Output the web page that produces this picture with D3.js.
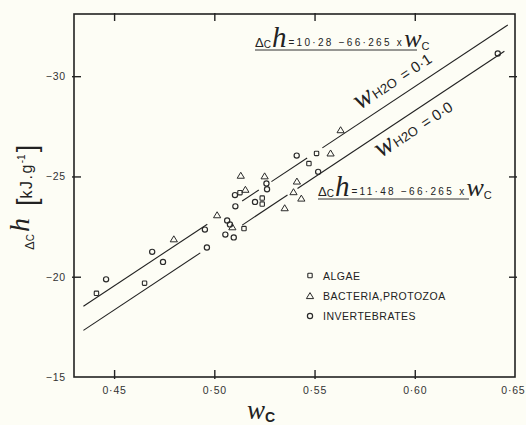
<!DOCTYPE html>
<html><head><meta charset="utf-8">
<script src="https://cdn.jsdelivr.net/npm/d3@7/dist/d3.min.js"></script>
<style>
html,body{margin:0;padding:0;background:#fdfdf5;}
svg{display:block;}
</style></head>
<body>
<svg id="c" width="526" height="425"></svg>
<script>
// ---- data ----
const algae = [[0.4412,-19.17],[0.4652,-19.68],[0.5128,-24.19],[0.5148,-22.40],[0.5239,-23.92],[0.5239,-23.62],[0.5472,-25.64],[0.5510,-26.15]];
const bacteria = [[0.4798,-21.87],[0.5014,-23.07],[0.5090,-22.47],[0.5132,-25.04],[0.5155,-24.34],[0.5251,-25.01],[0.5351,-23.42],[0.5395,-24.22],[0.5412,-24.75],[0.5434,-23.90],[0.5580,-26.15],[0.5630,-27.31]];
const invertebrates = [[0.4460,-19.87],[0.4690,-21.24],[0.4744,-20.74],[0.4953,-22.35],[0.4963,-21.46],[0.5064,-22.80],[0.5078,-22.61],[0.5055,-22.10],[0.5097,-21.96],[0.5103,-24.07],[0.5105,-23.51],[0.5203,-23.73],[0.5260,-24.65],[0.5263,-24.36],[0.5411,-26.04],[0.5518,-25.23],[0.6414,-31.13]];
const fitIntercepts = [10.28, 11.48];   // w_H2O = 0.1, 0.0
const fitSlope = -66.265;
const upperSegments = [[0.4347,0.4965],[0.5139,0.5222],[0.5285,0.5463],[0.5539,0.6464]];
const lowerSegments = [[0.4347,0.4930],[0.5139,0.5365],[0.5415,0.6447]];
const xTicks = [0.45,0.50,0.55,0.60,0.65];
const xTickLabels = ["0·45","0·50","0·55","0·60","0·65"];
const yTicks = [-15,-20,-25,-30];
const yTickLabels = ["−15","−20","−25","−30"];
const legendLabels = ["ALGAE","BACTERIA,PROTOZOA","INVERTEBRATES"];
const eqTexts = ["=10·28 −66·265 x","=11·48 −66·265 x"];
const waterLabels = ["= 0·1","= 0·0"];

// ---- layout ----
const L=74,T=14,R=515,B=377;
const ink="#222";
const svg=d3.select("#c");
const x=d3.scaleLinear().domain([0.43,0.65]).range([L,R]);
const y=d3.scaleLinear().domain([-15,-33.1]).range([B,T]);
const sans="'Liberation Sans', Arial, sans-serif";
const serif="'Liberation Serif', 'Times New Roman', serif";

// frame
svg.append("rect").attr("x",L).attr("y",T).attr("width",R-L).attr("height",B-T)
  .attr("fill","none").attr("stroke",ink).attr("stroke-width",1.6);

// bottom axis
const gb=svg.append("g").attr("transform",`translate(0,${B})`)
  .call(d3.axisBottom(x).tickValues(xTicks).tickFormat((d,i)=>xTickLabels[i]).tickSizeInner(-7).tickSizeOuter(0).tickPadding(10));
gb.select(".domain").remove();
gb.selectAll(".tick line").attr("y1",2).attr("stroke",ink).attr("stroke-width",1.4);
gb.selectAll(".tick").filter(d=>d>=0.65).select("line").remove();
gb.selectAll("text").attr("font-family",sans).attr("font-size",10.5).attr("letter-spacing",0.8).attr("fill","#333");
gb.selectAll(".tick").filter(d=>d>=0.65).select("text").attr("text-anchor","end").attr("x",10);

// top axis
const gt=svg.append("g").attr("transform",`translate(0,${T})`)
  .call(d3.axisTop(x).tickValues(xTicks.slice(0,4)).tickFormat("").tickSizeInner(-7).tickSizeOuter(0));
gt.select(".domain").remove();
gt.selectAll(".tick line").attr("y1",-1).attr("stroke",ink).attr("stroke-width",1.4);

// left axis
const gl=svg.append("g").attr("transform",`translate(${L},0)`)
  .call(d3.axisLeft(y).tickValues(yTicks).tickFormat((d,i)=>yTickLabels[i]).tickSizeInner(-7).tickSizeOuter(0).tickPadding(8));
gl.select(".domain").remove();
gl.selectAll(".tick line").attr("x1",-2).attr("stroke",ink).attr("stroke-width",1.4);
gl.selectAll(".tick").filter(d=>d===-15).select("line").remove();
gl.selectAll("text").attr("font-family",sans).attr("font-size",10.5).attr("letter-spacing",0.8).attr("fill","#333");

// right axis
const gr=svg.append("g").attr("transform",`translate(${R},0)`)
  .call(d3.axisRight(y).tickValues(yTicks.slice(1)).tickFormat("").tickSizeInner(-6).tickSizeOuter(0));
gr.select(".domain").remove();
gr.selectAll(".tick line").attr("x1",2).attr("stroke",ink).attr("stroke-width",1.4);

// fit lines
const fit=(a,w)=>a+fitSlope*w;
[[upperSegments,fitIntercepts[0]],[lowerSegments,fitIntercepts[1]]].forEach(([segs,a])=>{
  segs.forEach(s=>{
    svg.append("line").attr("x1",x(s[0])).attr("y1",y(fit(a,s[0])))
      .attr("x2",x(s[1])).attr("y2",y(fit(a,s[1])))
      .attr("stroke",ink).attr("stroke-width",1.1);
  });
});

// markers
const mk="#2a2a2a";
function square(g,cx,cy){g.append("rect").attr("x",cx-2.2).attr("y",cy-2.2).attr("width",4.4).attr("height",4.4).attr("rx",0.8)
  .attr("fill","none").attr("stroke",mk).attr("stroke-width",1.1);}
function tri(g,cx,cy){g.append("path").attr("d",`M${cx-3.6},${cy+2.6}L${cx+3.6},${cy+2.6}L${cx},${cy-3.4}Z`)
  .attr("fill","none").attr("stroke",mk).attr("stroke-width",1);}
function circ(g,cx,cy){g.append("circle").attr("cx",cx).attr("cy",cy).attr("r",2.6)
  .attr("fill","none").attr("stroke",mk).attr("stroke-width",1.2);}
const gm=svg.append("g");
algae.forEach(d=>square(gm,x(d[0]),y(d[1])));
bacteria.forEach(d=>tri(gm,x(d[0]),y(d[1])));
invertebrates.forEach(d=>circ(gm,x(d[0]),y(d[1])));

// legend
const lg=svg.append("g");
const legY=[275.5,296,316];
const legFns=[square,tri,circ];
legendLabels.forEach((t,i)=>{
  legFns[i](lg,310,legY[i]);
  lg.append("text").attr("x",323).attr("y",legY[i]+4).attr("font-family",sans).attr("font-size",10.5)
    .attr("letter-spacing",0.5).attr("fill","#222").text(t);
});

// equation labels
function eq(xs,ys,txt,ulEnd){
  const t=svg.append("text").attr("x",xs).attr("y",ys).attr("fill","#222");
  t.append("tspan").attr("font-family",sans).attr("font-size",13).text("Δ");
  t.append("tspan").attr("font-family",sans).attr("font-size",10).attr("dy",1).text("C");
  t.append("tspan").attr("font-family",serif).attr("font-style","italic").attr("font-size",29).attr("dy",-1).attr("dx",1).text("h");
  t.append("tspan").attr("font-family",sans).attr("font-size",10).attr("letter-spacing",2.3).attr("dx",2).attr("dy",-1).text(txt);
  t.append("tspan").attr("font-family",serif).attr("font-style","italic").attr("font-size",26).attr("dy",1).text("w");
  t.append("tspan").attr("font-family",sans).attr("font-size",11).attr("dy",3).text("C");
  svg.append("line").attr("x1",xs).attr("x2",ulEnd).attr("y1",ys+3).attr("y2",ys+3).attr("stroke","#333").attr("stroke-width",1);
}
eq(255,47,eqTexts[0],417);
eq(318,196,eqTexts[1],469);

// water-content labels along lines
const ang=-Math.atan(Math.abs(fitSlope)*(y(-16)-y(-15))*-1/(x(0.44)-x(0.43))/100)*180/Math.PI;
function wlab(w0,a,off,txt){
  const px=x(w0), py=y(fit(a,w0))+off;
  const t=svg.append("text").attr("transform",`translate(${px},${py}) rotate(${ang})`).attr("fill","#222");
  t.append("tspan").attr("font-family",serif).attr("font-style","italic").attr("font-size",28).text("w");
  t.append("tspan").attr("font-family",sans).attr("font-size",13).attr("dx",1).text("H2O");
  t.append("tspan").attr("font-family",sans).attr("font-size",15).attr("dx",7).text(txt);
}
wlab(0.5725,fitIntercepts[0],-13,waterLabels[0]);
wlab(0.5830,fitIntercepts[1],25,waterLabels[1]);

// axis titles
const xt=svg.append("text").attr("x",247).attr("y",419).attr("fill","#222");
xt.append("tspan").attr("font-family",serif).attr("font-style","italic").attr("font-size",27).text("w");
xt.append("tspan").attr("font-family",sans).attr("font-weight","bold").attr("font-size",14).attr("dy",3).text("C");

const yt=svg.append("text").attr("transform","translate(34,250) rotate(-90)").attr("fill","#222");
yt.append("tspan").attr("font-family",sans).attr("font-size",13).text("Δ");
yt.append("tspan").attr("font-family",sans).attr("font-size",10).text("C");
yt.append("tspan").attr("font-family",serif).attr("font-style","italic").attr("font-size",28).attr("dx",2).attr("dy",-5).text("h");
yt.append("tspan").attr("font-family",sans).attr("font-size",27).attr("dx",12).attr("dy",7).text("[");
yt.append("tspan").attr("font-family",sans).attr("font-size",16).attr("letter-spacing",1.5).attr("dy",-4).text("kJ.g");
yt.append("tspan").attr("font-family",sans).attr("font-size",10).attr("dy",-7).text("-1");
yt.append("tspan").attr("font-family",sans).attr("font-size",27).attr("dx",2).attr("dy",11).text("]");
</script>
</body></html>
